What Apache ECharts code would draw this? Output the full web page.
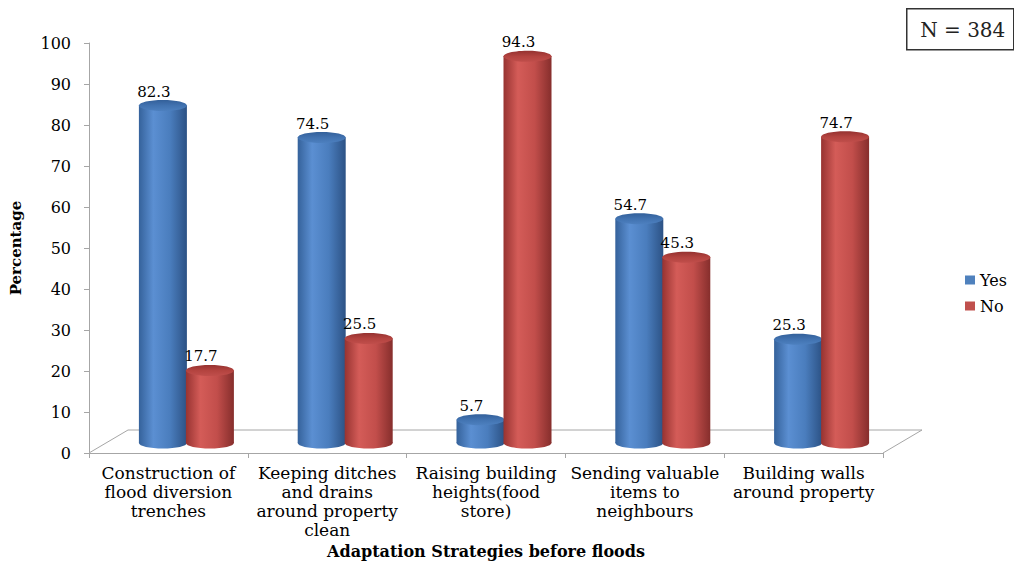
<!DOCTYPE html>
<html>
<head>
<meta charset="utf-8">
<script src="https://cdn.jsdelivr.net/npm/echarts@6/dist/echarts.min.js"></script>
<style>
  html, body { margin: 0; padding: 0; background: #fff; }
  #chart { width: 1014px; height: 567px; }
</style>
</head>
<body>
<div id="chart"></div>
<script>
// Survey results: adaptation strategies before floods (percent of respondents)
const categories = [
  'Construction of\nflood diversion\ntrenches',
  'Keeping ditches\nand drains\naround property\nclean',
  'Raising building\nheights(food\nstore)',
  'Sending valuable\nitems to\nneighbours',
  'Building walls\naround property'
];
const yesValues = [82.3, 74.5, 5.7, 54.7, 25.3];
const noValues = [17.7, 25.5, 94.3, 45.3, 74.7];
const seriesNames = ['Yes', 'No'];
const sampleNote = 'N = 384';

const FONT = 'DejaVu Serif';

// cylinder geometry (pixels)
const DEPTH_X = 18, DEPTH_Y = -10;  // bars sit half-way into the floor depth
const HALF_GAP = 23.5;               // offset of each cylinder from the pair centre
const RX = 24, RY = 5.5;
const FLOOR_DX = 39, FLOOR_DY = -23;

const palettes = [
  { // blue
    body: [[0, '#35629b'], [0.3, '#5b8fd2'], [0.65, '#4a7dbd'], [1, '#2c5285']],
    top: [[0, '#33609a'], [0.5, '#4172b0'], [1, '#4d80bf']],
    legend: '#4F81BD'
  },
  { // red
    body: [[0, '#973331'], [0.3, '#d45c58'], [0.65, '#c24e4b'], [1, '#862e2c']],
    top: [[0, '#953230'], [0.5, '#b3433f'], [1, '#c04e4b']],
    legend: '#C0504D'
  }
];

function grad(stops, vertical) {
  return new echarts.graphic.LinearGradient(0, 0, vertical ? 0 : 1, vertical ? 1 : 0,
    stops.map(s => ({ offset: s[0], color: s[1] })));
}

function cylinderRenderer(sIdx) {
  const pal = palettes[sIdx];
  return function (params, api) {
    const cat = api.value(0);
    const val = api.value(1);
    const base = api.coord([cat, 0]);
    const top = api.coord([cat, val]);
    const cx = base[0] + DEPTH_X + (sIdx === 0 ? -HALF_GAP : HALF_GAP);
    const y0 = base[1] + DEPTH_Y;
    const y1 = top[1] + DEPTH_Y;
    return {
      type: 'group',
      children: [
        { type: 'ellipse', shape: { cx: cx, cy: y0, rx: RX, ry: RY },
          style: { fill: grad(pal.body, false) } },
        { type: 'rect', shape: { x: cx - RX, y: y1, width: RX * 2, height: y0 - y1 },
          style: { fill: grad(pal.body, false) } },
        { type: 'ellipse', shape: { cx: cx, cy: y1, rx: RX, ry: RY },
          style: { fill: grad(pal.top, true) } },
        { type: 'text',
          style: { x: cx - 9, y: y1 - RY - 1, text: String(val),
                   fill: '#000', font: '15px "' + FONT + '"',
                   align: 'center', verticalAlign: 'bottom' } }
      ]
    };
  };
}

function floorRenderer(params, api) {
  const cs = params.coordSys;
  const xl = cs.x, xr = cs.x + cs.width, yb = cs.y + cs.height;
  const pts = [[xl, yb], [xl + FLOOR_DX, yb + FLOOR_DY], [xr + FLOOR_DX, yb + FLOOR_DY], [xr, yb]];
  return {
    type: 'polyline',
    shape: { points: pts },
    style: { stroke: '#a6a6a6', lineWidth: 1, fill: '#fff' },
    silent: true
  };
}

const chart = echarts.init(document.getElementById('chart'), null, { renderer: 'svg' });

chart.setOption({
  animation: false,
  backgroundColor: '#fff',
  textStyle: { fontFamily: FONT },
  grid: { left: 86, right: 131, top: 43, bottom: 114, containLabel: false },
  legend: {
    orient: 'vertical',
    left: 960,
    top: 267,
    itemWidth: 10,
    itemHeight: 9,
    itemGap: 10,
    data: seriesNames.map(n => ({ name: n, icon: 'rect' })),
    textStyle: { fontFamily: FONT, fontSize: 16, color: '#000' }
  },
  xAxis: {
    type: 'category',
    data: categories,
    name: 'Adaptation Strategies before floods',
    nameLocation: 'middle',
    nameGap: 90,
    nameTextStyle: { fontFamily: FONT, fontSize: 16, fontWeight: 'bold', color: '#000' },
    axisLine: { lineStyle: { color: '#a6a6a6', width: 1 } },
    axisTick: { show: true, length: 5, lineStyle: { color: '#a6a6a6' } },
    axisLabel: { interval: 0, margin: 10, fontFamily: FONT, fontSize: 17, lineHeight: 19, color: '#000' },
    splitLine: { show: false }
  },
  yAxis: {
    type: 'value',
    min: 0,
    max: 100,
    interval: 10,
    name: 'Percentage',
    nameLocation: 'middle',
    nameGap: 66,
    nameRotate: 90,
    nameTextStyle: { fontFamily: FONT, fontSize: 15, fontWeight: 'bold', color: '#000' },
    axisLine: { show: true, lineStyle: { color: '#a6a6a6', width: 1 } },
    axisTick: { show: true, length: 5, lineStyle: { color: '#a6a6a6' } },
    axisLabel: { margin: 18, fontFamily: FONT, fontSize: 16, color: '#000' },
    splitLine: { show: false }
  },
  graphic: [{
    type: 'group',
    left: 906,
    top: 8,
    children: [
      { type: 'rect', shape: { x: 0, y: 0, width: 107, height: 41 },
        style: { fill: '#fff', stroke: '#333', lineWidth: 1.5 } },
      { type: 'text', style: { x: 56, y: 21, text: sampleNote, align: 'center', verticalAlign: 'middle',
        font: '20px "' + FONT + '"', fill: '#222' } }
    ]
  }],
  series: [
    {
      type: 'custom',
      name: 'floor',
      renderItem: floorRenderer,
      data: [[0, 0]],
      z: 1,
      silent: true,
      tooltip: { show: false }
    },
    {
      type: 'custom',
      name: seriesNames[0],
      itemStyle: { color: palettes[0].legend },
      renderItem: cylinderRenderer(0),
      encode: { x: 0, y: 1 },
      data: yesValues.map((v, i) => [i, v]),
      z: 3
    },
    {
      type: 'custom',
      name: seriesNames[1],
      itemStyle: { color: palettes[1].legend },
      renderItem: cylinderRenderer(1),
      encode: { x: 0, y: 1 },
      data: noValues.map((v, i) => [i, v]),
      z: 4
    }
  ]
});
</script>
</body>
</html>
